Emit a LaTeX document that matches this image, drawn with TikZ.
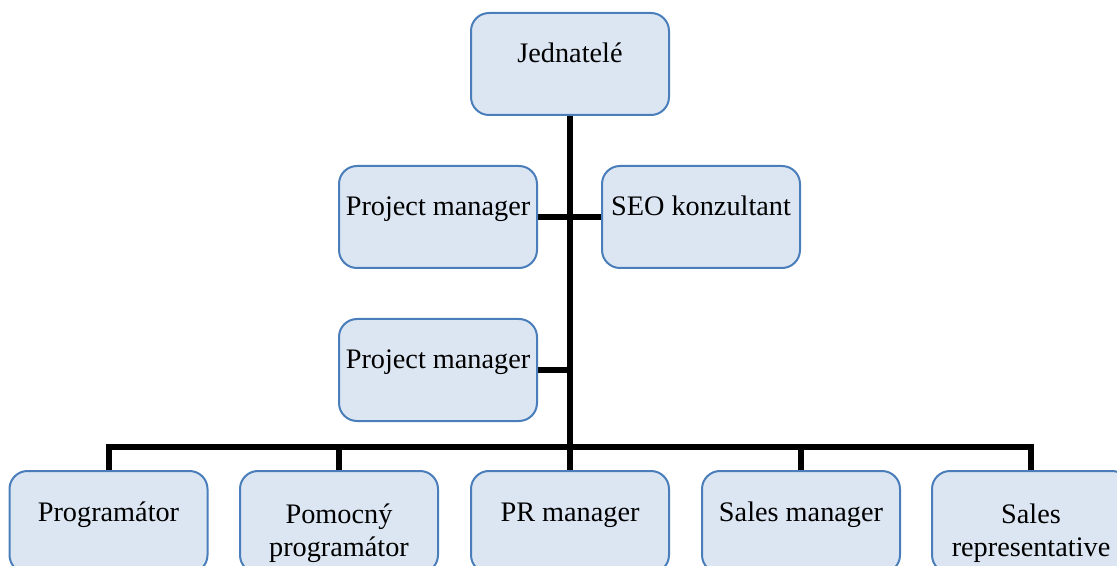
\documentclass[tikz,border=0pt]{standalone}
\usepackage{fontspec}
\setmainfont{Liberation Serif}
\usetikzlibrary{backgrounds}
\definecolor{boxfill}{HTML}{DCE6F2}
\definecolor{boxline}{HTML}{4A7EBB}
\begin{document}
\begin{tikzpicture}[x=0.75pt,y=-0.75pt,
    role/.style={draw=boxline,fill=boxfill,line width=1.5pt,rounded corners=13.5pt,
      minimum width=148.5pt,inner xsep=2pt,inner ysep=0pt,
      text height=37.5pt,text depth=39pt,align=center,
      font=\fontsize{21.2}{24.75}\selectfont},
    tworole/.style={role,text height=63.75pt,text depth=12.75pt},
    link/.style={line width=4.5pt}]
  \useasboundingbox (0,0) rectangle (1117,566);
  \draw
    (570,64) node[role] (jed){Jednatelé}
    (438,217) node[role] (pma){Project manager}
    (701,217) node[role] (seo){SEO konzultant}
    (438,370) node[role] (pmb){Project manager}
    (108.5,522) node[role] (prog){Programátor}
    (339,522) node[tworole] (pom){Pomocný\\programátor}
    (570,522) node[role] (pr){PR manager}
    (801,522) node[role] (sm){Sales manager}
    (1031,522) node[tworole] (rep){Sales\\representative};
  \coordinate (bus) at (570,447);
  \begin{scope}[on background layer]
    \draw[link] (jed) to (bus);
    \draw[link] (pma) to (seo);
    \draw[link] (pmb.east) to (pmb.east -| bus);
    \draw[link] (prog.north) |- (bus) -| (rep.north);
    \draw[link] (pom.north) to (pom.north |- bus);
    \draw[link] (pr.north) to (bus);
    \draw[link] (sm.north) to (sm.north |- bus);
  \end{scope}
\end{tikzpicture}
\end{document}
